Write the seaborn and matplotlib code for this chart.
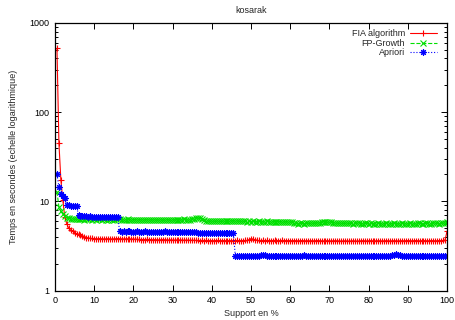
import numpy as np
import pandas as pd
import seaborn as sns
import matplotlib.pyplot as plt
from matplotlib.ticker import LogLocator, NullFormatter

# support en % (pas de 0.5)
support = np.arange(0.5, 100.01, 0.5)

fia = [
    520, 45, 17.3, 10.3, 6.6, 5.6, 5.0, 4.75, 4.6, 4.45,
    4.35, 4.25, 4.15, 4.05, 3.98, 3.92, 3.88, 3.85, 3.83, 3.82,
    3.80, 3.81, 3.82, 3.80, 3.79, 3.80, 3.81, 3.80, 3.79, 3.80,
    3.81, 3.82, 3.81, 3.80, 3.79, 3.80, 3.81, 3.80, 3.79, 3.78,
    3.77, 3.75, 3.74, 3.73, 3.72, 3.73, 3.74, 3.73, 3.72, 3.71,
    3.72, 3.71, 3.70, 3.71, 3.72, 3.71, 3.70, 3.69, 3.70, 3.69,
    3.68, 3.69, 3.70, 3.69, 3.68, 3.67, 3.68, 3.67, 3.66, 3.67,
    3.66, 3.65, 3.64, 3.63, 3.64, 3.63, 3.64, 3.63, 3.62, 3.63,
    3.62, 3.63, 3.64, 3.63, 3.62, 3.63, 3.62, 3.63, 3.62, 3.63,
    3.62, 3.63, 3.64, 3.63, 3.62, 3.63, 3.64, 3.65, 3.70, 3.82,
    3.78, 3.68, 3.65, 3.64, 3.63, 3.64, 3.63, 3.64, 3.63, 3.62,
    3.63, 3.64, 3.63, 3.62, 3.63, 3.64, 3.63, 3.62, 3.63, 3.62,
    3.62, 3.63, 3.62, 3.61, 3.62, 3.63, 3.62, 3.61, 3.62, 3.61,
    3.62, 3.61, 3.62, 3.63, 3.62, 3.61, 3.60, 3.61, 3.62, 3.61,
    3.60, 3.61, 3.62, 3.61, 3.60, 3.59, 3.60, 3.61, 3.60, 3.59,
    3.60, 3.61, 3.60, 3.59, 3.60, 3.61, 3.62, 3.61, 3.60, 3.61,
    3.62, 3.61, 3.60, 3.61, 3.62, 3.61, 3.60, 3.61, 3.62, 3.61,
    3.60, 3.61, 3.62, 3.61, 3.60, 3.61, 3.62, 3.61, 3.62, 3.63,
    3.62, 3.61, 3.62, 3.63, 3.62, 3.61, 3.62, 3.63, 3.62, 3.61,
    3.62, 3.63, 3.62, 3.61, 3.62, 3.63, 3.62, 3.64, 3.68, 4.6,
]

fpgrowth = [
    12.8, 8.7, 7.7, 7.2, 6.8, 6.55, 6.45, 6.4, 6.35, 6.3,
    6.3, 6.28, 6.3, 6.27, 6.25, 6.28, 6.3, 6.26, 6.25, 6.27,
    6.25, 6.28, 6.26, 6.24, 6.27, 6.25, 6.23, 6.26, 6.25, 6.24,
    6.26, 6.3, 6.28, 6.25, 6.22, 6.25, 6.27, 6.24, 6.22, 6.25,
    6.23, 6.2, 6.24, 6.22, 6.19, 6.22, 6.25, 6.21, 6.2, 6.23,
    6.2, 6.18, 6.22, 6.2, 6.17, 6.21, 6.24, 6.2, 6.18, 6.21,
    6.19, 6.22, 6.2, 6.18, 6.23, 6.26, 6.22, 6.2, 6.24, 6.3,
    6.38, 6.45, 6.5, 6.42, 6.3, 6.15, 6.05, 6.02, 6.0, 6.03,
    6.0, 5.98, 6.02, 6.0, 5.97, 6.01, 5.99, 5.96, 6.0, 6.02,
    6.05, 6.08, 6.03, 6.0, 5.98, 5.95, 5.97, 5.94, 5.96, 5.93,
    5.95, 5.92, 5.94, 5.96, 5.93, 5.9, 5.93, 5.95, 5.92, 5.9,
    5.93, 5.91, 5.89, 5.92, 5.94, 5.9, 5.88, 5.91, 5.93, 5.9,
    5.8, 5.7, 5.66, 5.64, 5.67, 5.65, 5.63, 5.66, 5.68, 5.65,
    5.67, 5.7, 5.72, 5.75, 5.78, 5.8, 5.82, 5.8, 5.83, 5.85,
    5.82, 5.78, 5.74, 5.7, 5.68, 5.66, 5.69, 5.67, 5.65, 5.68,
    5.66, 5.63, 5.66, 5.68, 5.65, 5.62, 5.64, 5.67, 5.65, 5.63,
    5.66, 5.64, 5.61, 5.63, 5.66, 5.64, 5.6, 5.62, 5.65, 5.63,
    5.61, 5.64, 5.66, 5.63, 5.6, 5.62, 5.65, 5.63, 5.61, 5.64,
    5.66, 5.63, 5.6, 5.62, 5.65, 5.68, 5.64, 5.62, 5.65, 5.67,
    5.64, 5.62, 5.65, 5.68, 5.66, 5.63, 5.66, 5.7, 5.74, 5.8,
]

apriori = [
    20.0, 14.6, 12.2, 11.5, 10.9, 9.1, 9.0, 8.95, 8.9, 8.9,
    8.85, 7.0, 6.9, 6.85, 6.8, 6.8, 6.75, 6.78, 6.74, 6.72,
    6.7, 6.72, 6.68, 6.66, 6.7, 6.67, 6.64, 6.66, 6.63, 6.65,
    6.62, 6.64, 4.6, 4.58, 4.6, 4.57, 4.59, 4.6, 4.58, 4.57,
    4.58, 4.6, 4.57, 4.56, 4.58, 4.6, 4.57, 4.56, 4.58, 4.57,
    4.56, 4.58, 4.57, 4.55, 4.57, 4.59, 4.56, 4.55, 4.57, 4.56,
    4.55, 4.57, 4.56, 4.54, 4.56, 4.58, 4.55, 4.54, 4.56, 4.55,
    4.54, 4.5, 4.42, 4.4, 4.41, 4.39, 4.4, 4.42, 4.4, 4.39,
    4.41, 4.4, 4.38, 4.4, 4.42, 4.4, 4.39, 4.41, 4.4, 4.38,
    4.4, 2.45, 2.44, 2.46, 2.45, 2.44, 2.45, 2.46, 2.44, 2.45,
    2.46, 2.45, 2.44, 2.46, 2.47, 2.5, 2.47, 2.45, 2.44, 2.45,
    2.46, 2.44, 2.45, 2.46, 2.45, 2.44, 2.45, 2.46, 2.44, 2.45,
    2.44, 2.45, 2.46, 2.45, 2.44, 2.46, 2.48, 2.46, 2.45, 2.44,
    2.45, 2.46, 2.44, 2.45, 2.46, 2.45, 2.44, 2.45, 2.46, 2.44,
    2.45, 2.46, 2.45, 2.44, 2.45, 2.46, 2.44, 2.45, 2.46, 2.45,
    2.44, 2.45, 2.46, 2.45, 2.44, 2.45, 2.46, 2.44, 2.45, 2.46,
    2.45, 2.44, 2.45, 2.46, 2.45, 2.44, 2.46, 2.45, 2.44, 2.45,
    2.46, 2.48, 2.53, 2.56, 2.52, 2.47, 2.45, 2.44, 2.45, 2.46,
    2.45, 2.44, 2.45, 2.46, 2.45, 2.44, 2.45, 2.46, 2.45, 2.44,
    2.45, 2.46, 2.45, 2.44, 2.45, 2.46, 2.45, 2.44, 2.45, 2.46,
]

df = pd.DataFrame({'support': support, 'FIA algorithm': fia,
                   'FP-Growth': fpgrowth, 'Apriori': apriori})

sns.set_theme(style="ticks")
plt.rcParams['font.family'] = ['Liberation Sans', 'DejaVu Sans']

fig = plt.figure(figsize=(4.55, 3.2), dpi=100)
ax = fig.add_axes([55 / 455, 1 - 290.5 / 320, 392 / 455, 267.5 / 320])

styles = [
    ('FIA algorithm', '#ff0000', '-', '+'),
    ('FP-Growth', '#00e000', '--', 'x'),
    ('Apriori', '#0000ff', ':', (8, 2, 0)),
]
for nom, couleur, ls, mk in styles:
    sns.lineplot(data=df, x='support', y=nom, ax=ax, color=couleur,
                 linestyle=ls, marker=mk, markersize=4.6, markeredgewidth=0.8,
                 markeredgecolor=couleur, linewidth=0.8, label=nom,
                 sort=False, errorbar=None)

ax.set_yscale('log')
ax.set_xlim(0, 100)
ax.set_ylim(1, 1000)
ax.set_xticks(range(0, 101, 10))
ax.set_yticks([1, 10, 100, 1000], labels=['1', '10', '100', '1000'])
ax.yaxis.set_minor_locator(LogLocator(base=10, subs=np.arange(2, 10)))
ax.yaxis.set_minor_formatter(NullFormatter())

ax.tick_params(which='both', direction='in', top=True, right=True,
               labelsize=6.5, colors='black', width=0.7)
ax.tick_params(which='major', length=4, pad=4)
ax.tick_params(which='minor', length=2.2)
ax.tick_params(axis='x', which='minor', top=False, bottom=False)
for s in ax.spines.values():
    s.set_linewidth(0.9)
    s.set_color('black')

ax.set_title('kosarak', fontsize=6.5, pad=7)
ax.set_xlabel('Support en %', fontsize=6.5)
ax.set_ylabel('Temps en secondes (echelle logarithmique)', fontsize=6.5)
ax.xaxis.set_label_coords(0.5, -0.068)
ax.yaxis.set_label_coords(-0.094, 0.5)

ax.legend(loc='upper right', bbox_to_anchor=(0.99, 1.0), frameon=False,
          markerfirst=False, fontsize=6.5, handlelength=3.0,
          handletextpad=0.5, labelspacing=0.05, borderaxespad=0.3,
          numpoints=1)

fig.savefig('out.png', dpi=100)
